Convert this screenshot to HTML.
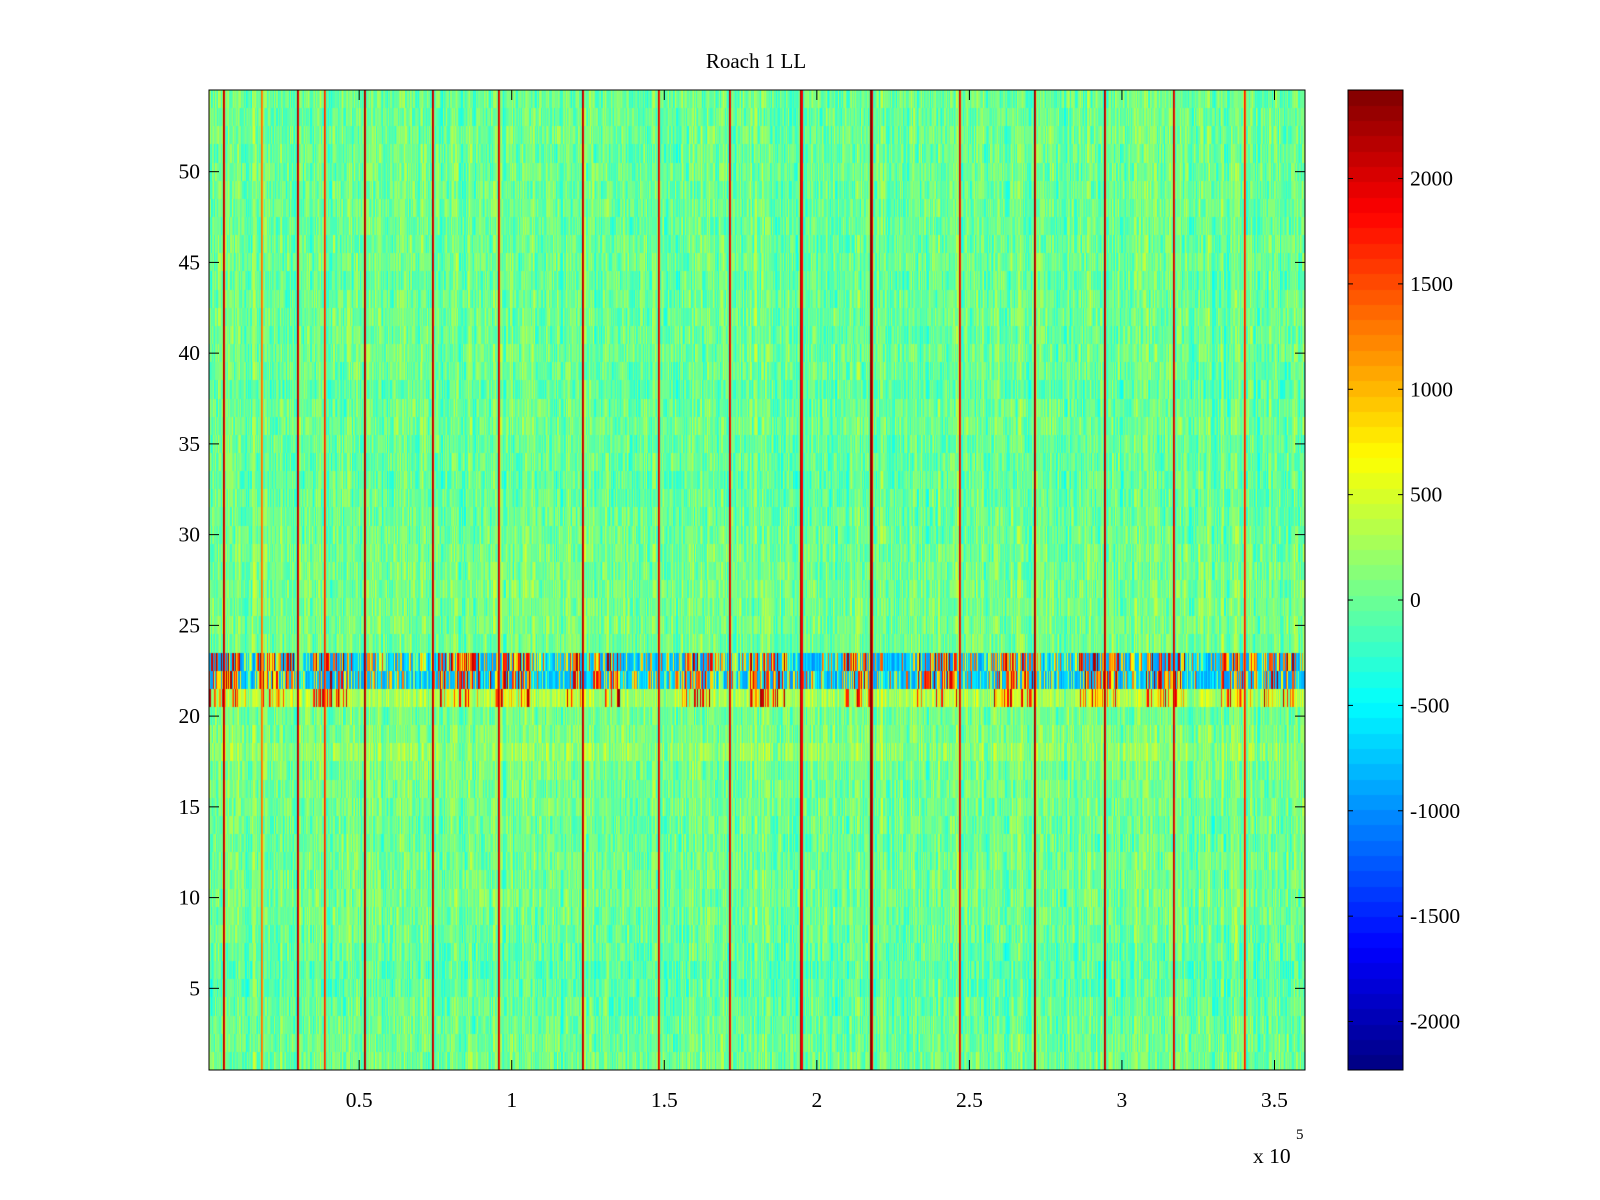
<!DOCTYPE html>
<html><head><meta charset="utf-8">
<style>
html,body{margin:0;padding:0;background:#fff;}
#wrap{position:relative;width:1600px;height:1200px;font-family:"Liberation Serif",serif;color:#000;}
.t{position:absolute;font-size:21px;white-space:nowrap;}
</style></head>
<body>
<div id="wrap">
<div class="t" style="left:0;width:1512px;text-align:center;top:49px;">Roach 1 LL</div>
<canvas id="hm" width="1096" height="980" style="position:absolute;left:209px;top:90px;"></canvas>
<canvas id="cb" width="55" height="980" style="position:absolute;left:1348px;top:90px;"></canvas>
<svg id="ax" width="1600" height="1200" style="position:absolute;left:0;top:0;"></svg>
</div>
<script>
// ---- data ----
const xMin = 780, xMax = 360000, nCols = 1000;
const yRows = 54;
const cMin = -2230, cMax = 2420;
// per-row mean level (row 1..54)
const rowMeans = [40,20,0,-20,-60,-80,-40,0,20,40,40,20,0,20,40,40,60,180,80,40,300,-300,-300,40,60,40,60,40,40,20,0,-20,-40,-20,-20,20,0,-40,0,20,0,20,0,-20,20,0,0,20,0,20,0,20,0,0];
// vertical spike positions (x in units of 1e5)
const spikeX = [0.058,0.182,0.299,0.386,0.520,0.741,0.959,1.233,1.484,1.715,1.950,2.181,2.469,2.716,2.944,3.172,3.403];
const spikeVal = [2300,1400,2300,1700,2400,2300,2200,2300,2100,2200,2300,2400,2100,2400,2300,2200,1800];
// band segments with strong positive values (x in 1e5)
const bandHotStart = [0.00,0.17,0.35,0.76,0.93,1.18,1.27,1.56,1.78,2.09,2.33,2.58,2.86,3.08,3.32,3.46];
const bandHotEnd   = [0.13,0.29,0.48,0.90,1.06,1.24,1.36,1.66,1.90,2.18,2.46,2.71,3.00,3.21,3.43,3.57];
const colorTicks = [-2000,-1500,-1000,-500,0,500,1000,1500,2000];
const xTicks = [0.5,1,1.5,2,2.5,3,3.5];
const yTicks = [5,10,15,20,25,30,35,40,45,50];

// ---- helpers ----
const W=1096,H=980,L=209,T=90;
function xPx(v){return L+(v*1e5-xMin)/(xMax-xMin)*W;}
function yPx(r){return T+(yRows+0.5-r)/yRows*H;}
function hash(a,b){let h=(a*374761393+b*668265263)>>>0;h=((h^(h>>>13))*1274126177)>>>0;return ((h^(h>>>16))>>>0)/4294967296;}
function jet(v){
  let t=(v-cMin)/(cMax-cMin);t=Math.max(0,Math.min(0.9999,t));t=(Math.floor(t*64)+0.5)/64;
  const f=x=>Math.max(0,Math.min(1,x));
  const r=f(1.5-Math.abs(4*t-3)),g=f(1.5-Math.abs(4*t-2)),b=f(1.5-Math.abs(4*t-1));
  return `rgb(${Math.round(r*255)},${Math.round(g*255)},${Math.round(b*255)})`;
}
// ---- heatmap ----
const ctx=document.getElementById('hm').getContext('2d');
const dx=(xMax-xMin)/nCols;
const spikeCol={};
spikeX.forEach((s,i)=>{const c=Math.floor((s*1e5-xMin)/dx);spikeCol[c]=spikeVal[i];spikeCol[c+1]=spikeVal[i]*0.8;});
function inHot(xv){for(let i=0;i<bandHotStart.length;i++){if(xv>=bandHotStart[i]&&xv<=bandHotEnd[i])return true;}return false;}
for(let c=0;c<nCols;c++){
  const xv=(xMin+(c+0.5)*dx)/1e5;
  const colBias=(hash(c,999)-0.5)*400;
  const hot=inHot(xv);
  for(let r=1;r<=yRows;r++){
    let v=rowMeans[r-1]+colBias+(hash(c,r)-0.5)*550;
    if(r===22||r===23){
      const u=hash(c,r+77);
      if(hot) v = u<0.6 ? 300+u*3500 : -200-u*800;
      else v = u<0.15 ? 600+u*6000 : (u<0.3 ? 0+u*600 : -300-u*700);
    } else if(r===21){
      const u=hash(c,r+55);
      if(hot&&u<0.45) v=500+u*4000;
    }
    if(spikeCol[c]!==undefined) v=spikeCol[c];
    ctx.fillStyle=jet(v);
    const x0=Math.floor(c*W/nCols),x1=Math.floor((c+1)*W/nCols);
    const y0=Math.round(yPx(r+0.5)-T),y1=Math.round(yPx(r-0.5)-T);
    ctx.fillRect(x0,y0,x1-x0,y1-y0);
  }
}
// ---- colorbar ----
const cb=document.getElementById('cb').getContext('2d');
for(let i=0;i<64;i++){
  const v=cMin+(i+0.5)/64*(cMax-cMin);
  cb.fillStyle=jet(v);
  const y0=Math.floor(H-(i+1)/64*H),y1=Math.ceil(H-i/64*H);
  cb.fillRect(0,y0,55,y1-y0);
}
// ---- axes ----
const svg=document.getElementById('ax');const NS='http://www.w3.org/2000/svg';
function add(tag,attrs,txt){const e=document.createElementNS(NS,tag);for(const k in attrs)e.setAttribute(k,attrs[k]);if(txt!==undefined)e.textContent=txt;svg.appendChild(e);return e;}
let e;
e=add('rect',{x:L,y:T,width:W,height:H,fill:'none',stroke:'#000','stroke-width':1});


e=add('rect',{x:1348,y:T,width:55,height:H,fill:'none',stroke:'#000','stroke-width':1});


const fs='font-family:"Liberation Serif",serif;font-size:21.5px;';
xTicks.forEach(v=>{
  const x=xPx(v);
  add('line',{x1:x,y1:T+H,x2:x,y2:T+H-10,stroke:'#000'});
  add('line',{x1:x,y1:T,x2:x,y2:T+10,stroke:'#000'});
  e=add('text',{x:x,y:1107,'text-anchor':'middle',style:fs},String(v));
  
  
});
yTicks.forEach(v=>{
  const y=yPx(v);
  add('line',{x1:L,y1:y,x2:L+10,y2:y,stroke:'#000'});
  add('line',{x1:L+W,y1:y,x2:L+W-10,y2:y,stroke:'#000'});
  e=add('text',{x:200,y:y+7,'text-anchor':'end',style:fs},String(v));
  
  
});
colorTicks.forEach(v=>{
  const y=T+(cMax-v)/(cMax-cMin)*H;
  add('line',{x1:1348,y1:y,x2:1353,y2:y,stroke:'#000'});
  add('line',{x1:1403,y1:y,x2:1398,y2:y,stroke:'#000'});
  e=add('text',{x:1410,y:y+7,style:fs},String(v));
  
  
});
e=add('text',{x:1253,y:1163,style:fs},'x 10');


e=add('text',{x:1296,y:1139,style:'font-family:"Liberation Serif",serif;font-size:15px;'},'5');


</script>
</body></html>
